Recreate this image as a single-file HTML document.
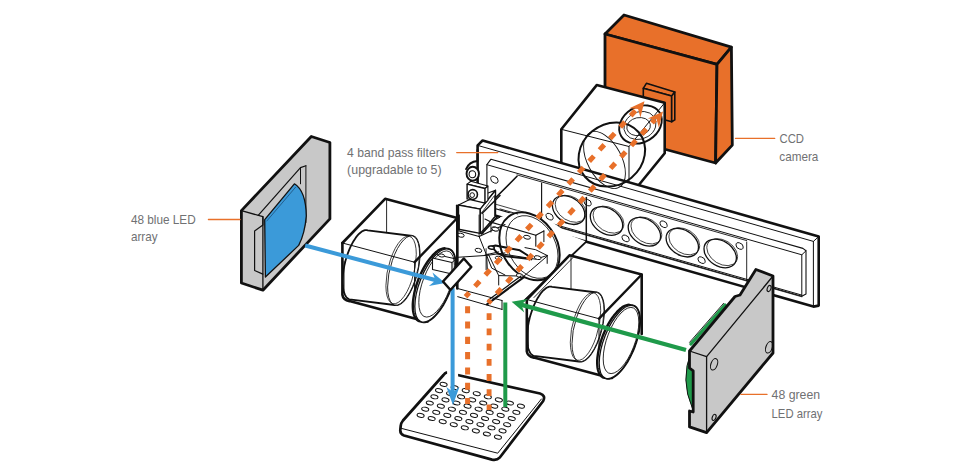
<!DOCTYPE html>
<html><head><meta charset="utf-8"><style>html,body{margin:0;padding:0;background:#fff;width:953px;height:475px;overflow:hidden}svg{display:block}</style></head>
<body><svg width="953" height="475" viewBox="0 0 953 475"><polygon points="624.0,15.0 731.4,47.2 717.0,64.4 605.0,34.0" fill="#e8702a" stroke="#111" stroke-width="2.8" stroke-linejoin="round" />
<polygon points="605.0,34.0 717.0,64.4 715.6,163.0 605.0,133.0" fill="#e8702a" stroke="#111" stroke-width="2.8" stroke-linejoin="round" />
<polygon points="717.0,64.4 731.4,47.2 732.3,145.1 715.6,163.0" fill="#e8702a" stroke="#111" stroke-width="2.8" stroke-linejoin="round" />
<polygon points="646.4,83.3 674.8,92.1 671.7,95.9 643.3,88.3" fill="#e8702a" stroke="#111" stroke-width="1.6" stroke-linejoin="round" />
<polygon points="643.3,88.3 671.7,95.9 671.7,121.8 643.3,114.0" fill="#e8702a" stroke="#111" stroke-width="1.6" stroke-linejoin="round" />
<polygon points="671.7,95.9 674.8,92.1 674.8,119.9 671.7,121.8" fill="#e8702a" stroke="#111" stroke-width="1.6" stroke-linejoin="round" />
<polygon points="596.7,85.1 664.7,102.8 664.7,153.3 629.0,197.0 561.3,180.0 561.3,129.3" fill="#fff" stroke="#111" stroke-width="2.6" stroke-linejoin="round" />
<polyline points="561.3,129.3 629.0,146.5 664.7,102.8" fill="none" stroke="#111" stroke-width="1" stroke-linejoin="round" stroke-linecap="round" />
<polyline points="629.0,146.5 629.0,197.0" fill="none" stroke="#111" stroke-width="1" stroke-linejoin="round" stroke-linecap="round" />
<polygon points="482.6,140.5 818.7,236.6 818.7,305.6 813.4,306.6 477.6,210.6 477.6,145.4" fill="#fff" stroke="#111" stroke-width="2.6" stroke-linejoin="round" />
<polyline points="477.6,145.4 813.4,241.4 818.7,236.6" fill="none" stroke="#111" stroke-width="1" stroke-linejoin="round" stroke-linecap="round" />
<polyline points="813.4,241.4 813.4,306.6" fill="none" stroke="#111" stroke-width="1" stroke-linejoin="round" stroke-linecap="round" />
<polygon points="491.0,159.2 802.9,248.4 806.0,250.8 806.0,294.0 801.8,296.3 486.9,206.2 486.9,164.7" fill="#fff" stroke="#111" stroke-width="1.1" stroke-linejoin="round" />
<polyline points="486.9,164.7 801.8,254.8 806.0,250.8" fill="none" stroke="#111" stroke-width="1" stroke-linejoin="round" stroke-linecap="round" />
<polyline points="801.8,254.8 801.8,296.3" fill="none" stroke="#111" stroke-width="1" stroke-linejoin="round" stroke-linecap="round" />
<polyline points="517.0,174.9 746.7,240.6" fill="none" stroke="#111" stroke-width="0.9" stroke-linejoin="round" stroke-linecap="round" />
<polyline points="541.6,220.7 801.8,295.1" fill="none" stroke="#111" stroke-width="1.0" stroke-linejoin="round" stroke-linecap="round" />
<polyline points="541.6,222.4 801.8,296.8" fill="none" stroke="#111" stroke-width="0.8" stroke-linejoin="round" stroke-linecap="round" />
<polyline points="517.0,176.3 480.0,213.3" fill="none" stroke="#111" stroke-width="1.6" stroke-linejoin="round" stroke-linecap="round" />
<polyline points="541.6,183.4 541.6,222.4" fill="none" stroke="#111" stroke-width="0.9" stroke-linejoin="round" stroke-linecap="round" />
<polyline points="746.7,242.0 746.7,281.0" fill="none" stroke="#111" stroke-width="0.9" stroke-linejoin="round" stroke-linecap="round" />
<polyline points="487.6,201.9 541.6,217.4" fill="none" stroke="#111" stroke-width="0.8" stroke-linejoin="round" stroke-linecap="round" />
<ellipse cx="0" cy="0" rx="16.2" ry="13.6" transform="matrix(1 0.28 0 1 568.6 210.096)" fill="#fff" stroke="#111" stroke-width="1.3" vector-effect="non-scaling-stroke" />
<ellipse cx="0" cy="0" rx="15.4" ry="12.8" transform="matrix(1 0.28 0 1 570.6 208.796)" fill="none" stroke="#111" stroke-width="0.8" vector-effect="non-scaling-stroke" />
<ellipse cx="0" cy="0" rx="16.2" ry="13.6" transform="matrix(1 0.28 0 1 606.5 220.93540000000002)" fill="#fff" stroke="#111" stroke-width="1.3" vector-effect="non-scaling-stroke" />
<ellipse cx="0" cy="0" rx="15.4" ry="12.8" transform="matrix(1 0.28 0 1 608.5 219.6354)" fill="none" stroke="#111" stroke-width="0.8" vector-effect="non-scaling-stroke" />
<ellipse cx="0" cy="0" rx="16.2" ry="13.6" transform="matrix(1 0.28 0 1 644.4000000000001 231.7748)" fill="#fff" stroke="#111" stroke-width="1.3" vector-effect="non-scaling-stroke" />
<ellipse cx="0" cy="0" rx="15.4" ry="12.8" transform="matrix(1 0.28 0 1 646.4000000000001 230.4748)" fill="none" stroke="#111" stroke-width="0.8" vector-effect="non-scaling-stroke" />
<ellipse cx="0" cy="0" rx="16.2" ry="13.6" transform="matrix(1 0.28 0 1 682.3 242.61419999999998)" fill="#fff" stroke="#111" stroke-width="1.3" vector-effect="non-scaling-stroke" />
<ellipse cx="0" cy="0" rx="15.4" ry="12.8" transform="matrix(1 0.28 0 1 684.3 241.31419999999997)" fill="none" stroke="#111" stroke-width="0.8" vector-effect="non-scaling-stroke" />
<ellipse cx="0" cy="0" rx="16.2" ry="13.6" transform="matrix(1 0.28 0 1 720.2 253.4536)" fill="#fff" stroke="#111" stroke-width="1.3" vector-effect="non-scaling-stroke" />
<ellipse cx="0" cy="0" rx="15.4" ry="12.8" transform="matrix(1 0.28 0 1 722.2 252.15359999999998)" fill="none" stroke="#111" stroke-width="0.8" vector-effect="non-scaling-stroke" />
<ellipse cx="0" cy="0" rx="3.6" ry="3.1" transform="matrix(1 0.28 0 1 549.6 216.662)" fill="#fff" stroke="#111" stroke-width="1" vector-effect="non-scaling-stroke" />
<ellipse cx="0" cy="0" rx="3.6" ry="3.1" transform="matrix(1 0.28 0 1 587.6 202.53)" fill="#fff" stroke="#111" stroke-width="1" vector-effect="non-scaling-stroke" />
<ellipse cx="0" cy="0" rx="3.6" ry="3.1" transform="matrix(1 0.28 0 1 625.6 238.398)" fill="#fff" stroke="#111" stroke-width="1" vector-effect="non-scaling-stroke" />
<ellipse cx="0" cy="0" rx="3.6" ry="3.1" transform="matrix(1 0.28 0 1 663.6 224.266)" fill="#fff" stroke="#111" stroke-width="1" vector-effect="non-scaling-stroke" />
<ellipse cx="0" cy="0" rx="3.6" ry="3.1" transform="matrix(1 0.28 0 1 701.6 260.134)" fill="#fff" stroke="#111" stroke-width="1" vector-effect="non-scaling-stroke" />
<ellipse cx="0" cy="0" rx="3.6" ry="3.1" transform="matrix(1 0.28 0 1 739.6 246.002)" fill="#fff" stroke="#111" stroke-width="1" vector-effect="non-scaling-stroke" />
<ellipse cx="0" cy="0" rx="3.7" ry="3.3" transform="matrix(1 0.28 0 1 494.40000000000003 179.6748)" fill="#fff" stroke="#111" stroke-width="1" vector-effect="non-scaling-stroke" />
<ellipse cx="604.5" cy="160" rx="17" ry="31" transform="rotate(-28 604.5 160)" fill="none" stroke="#111" stroke-width="0.9" />
<ellipse cx="0" cy="0" rx="32.9" ry="32.1" transform="matrix(1 0.02 -0.16 1 611.8 154.5)" fill="none" stroke="#111" stroke-width="2.0" vector-effect="non-scaling-stroke"/>
<ellipse cx="0" cy="0" rx="15.5" ry="14" transform="matrix(1 0.1 -0.3 1 640 125.5)" fill="none" stroke="#111" stroke-width="0.9" vector-effect="non-scaling-stroke"/>
<ellipse cx="0" cy="0" rx="11.5" ry="9" transform="matrix(1 0.1 -0.3 1 638.6 126.6)" fill="none" stroke="#111" stroke-width="0.9" vector-effect="non-scaling-stroke"/>
<ellipse cx="0" cy="0" rx="20" ry="19" transform="matrix(1 0.12 -0.38 1 640.5 124.5)" fill="none" stroke="#111" stroke-width="1.9" vector-effect="non-scaling-stroke"/>
<polygon points="456.8,232.4 480.4,232.4 495.6,218.9 517.5,210.5 552.0,222.0 572.0,236.0 586.3,241.6 527.0,298.0 504.0,311.6 456.8,301.5" fill="#fff" stroke="none" stroke-width="0" stroke-linejoin="round" />
<polyline points="500.0,208.9 517.7,214.0" fill="none" stroke="#111" stroke-width="0.9" stroke-linejoin="round" stroke-linecap="round" />
<polyline points="541.6,183.0 541.6,214.0" fill="none" stroke="#111" stroke-width="0.9" stroke-linejoin="round" stroke-linecap="round" />
<path d="M466.1,169.0 Q469.0,161.8 477.5,161.0 L477.5,150.0" fill="none" stroke="#111" stroke-width="2.0" stroke-linejoin="round" stroke-linecap="round" />
<ellipse cx="0" cy="0" rx="6.2" ry="6.9" transform="matrix(1 0 0 1 472.74881516587675 173.69668246445497)" fill="#fff" stroke="#111" stroke-width="1.9" vector-effect="non-scaling-stroke" />
<ellipse cx="0" cy="0" rx="3.3" ry="3.5" transform="matrix(1 0 0 1 472.3696682464455 174.2654028436019)" fill="none" stroke="#111" stroke-width="1.1" vector-effect="non-scaling-stroke" />
<polygon points="458.5,205.0 467.1,200.8 495.5,190.2 480.3,209.1" fill="#fff" stroke="#111" stroke-width="1.1" stroke-linejoin="round" />
<polygon points="458.5,205.0 480.3,209.1 480.3,233.4 458.5,229.2" fill="#fff" stroke="#111" stroke-width="1.4" stroke-linejoin="round" />
<polygon points="480.3,209.1 495.5,190.2 495.5,216.4 480.3,233.4" fill="#fff" stroke="#111" stroke-width="1.4" stroke-linejoin="round" />
<polyline points="481.8,212.6 494.5,195.5 494.5,216.4 481.8,233.4" fill="none" stroke="#111" stroke-width="0.8" stroke-linejoin="round" stroke-linecap="round" />
<polyline points="481.8,212.6 483.2,213.7 483.2,233.4" fill="none" stroke="#111" stroke-width="0.8" stroke-linejoin="round" stroke-linecap="round" />
<polygon points="467.1,184.1 470.9,181.3 487.9,186.0 485.1,188.5" fill="#fff" stroke="#111" stroke-width="1.1" stroke-linejoin="round" />
<polygon points="467.1,184.1 485.1,188.5 485.1,203.1 467.1,198.9" fill="#fff" stroke="#111" stroke-width="1.4" stroke-linejoin="round" />
<polygon points="485.1,188.5 487.9,186.0 487.9,200.4 485.1,203.1" fill="#fff" stroke="#111" stroke-width="1.1" stroke-linejoin="round" />
<ellipse cx="0" cy="0" rx="4.7" ry="4.9" transform="matrix(1 0 0 1 472.74881516587675 194.54976303317534)" fill="#fff" stroke="#111" stroke-width="1.6" vector-effect="non-scaling-stroke" />
<ellipse cx="0" cy="0" rx="2.3" ry="2.4" transform="matrix(1 0 0 1 472.18009478672985 195.11848341232226)" fill="none" stroke="#111" stroke-width="1.0" vector-effect="non-scaling-stroke" />
<polyline points="457.0,205.5 457.0,275.0" fill="none" stroke="#111" stroke-width="2.2" stroke-linejoin="round" stroke-linecap="round" />
<polyline points="458.3,230.8 479.1,236.5" fill="none" stroke="#111" stroke-width="1.1" stroke-linejoin="round" stroke-linecap="round" />
<polyline points="479.1,236.5 479.1,215.0" fill="none" stroke="#111" stroke-width="0.9" stroke-linejoin="round" stroke-linecap="round" />
<polyline points="479.1,236.5 505.0,224.5" fill="none" stroke="#111" stroke-width="1.1" stroke-linejoin="round" stroke-linecap="round" />
<polyline points="481.6,233.9 496.8,217.5" fill="none" stroke="#111" stroke-width="1.8" stroke-linejoin="round" stroke-linecap="round" />
<polyline points="479.1,236.5 491.7,268.1 505.0,275.0" fill="none" stroke="#111" stroke-width="1.0" stroke-linejoin="round" stroke-linecap="round" />
<polyline points="457.6,257.3 486.7,255.4 505.0,252.9" fill="none" stroke="#111" stroke-width="1.0" stroke-linejoin="round" stroke-linecap="round" />
<polyline points="486.7,255.4 487.3,269.3" fill="none" stroke="#111" stroke-width="1.0" stroke-linejoin="round" stroke-linecap="round" />
<polyline points="459.5,215.0 459.5,230.2" fill="none" stroke="#111" stroke-width="0.9" stroke-linejoin="round" stroke-linecap="round" />
<ellipse cx="0" cy="0" rx="3.4" ry="2.0" transform="matrix(1 0.15 0 1 460.7888088922572 235.2096753820892)" fill="#fff" stroke="#111" stroke-width="1.0" vector-effect="non-scaling-stroke" />
<ellipse cx="0" cy="0" rx="3.4" ry="2.0" transform="matrix(1 0.15 0 1 478.4722748515852 250.36693191865606)" fill="#fff" stroke="#111" stroke-width="1.0" vector-effect="non-scaling-stroke" />
<ellipse cx="0" cy="0" rx="3.4" ry="2.0" transform="matrix(1 0.15 0 1 494.89263609953264 228.8941518251863)" fill="#fff" stroke="#111" stroke-width="1.0" vector-effect="non-scaling-stroke" />
<polyline points="455.4,287.9 502.0,300.5" fill="none" stroke="#111" stroke-width="1.0" stroke-linejoin="round" stroke-linecap="round" />
<polyline points="455.4,296.0 502.0,309.4" fill="none" stroke="#111" stroke-width="1.0" stroke-linejoin="round" stroke-linecap="round" />
<polyline points="502.0,300.5 502.0,309.4" fill="none" stroke="#111" stroke-width="1.0" stroke-linejoin="round" stroke-linecap="round" />
<polyline points="586.3,241.6 525.0,300.0" fill="none" stroke="#111" stroke-width="1.9" stroke-linejoin="round" stroke-linecap="round" />
<polyline points="586.3,197.4 586.3,241.6" fill="none" stroke="#111" stroke-width="1.5" stroke-linejoin="round" stroke-linecap="round" />
<ellipse cx="0" cy="0" rx="30.2" ry="32.8" transform="matrix(1 0.286 0 1 529.5 246.3)" fill="none" stroke="#111" stroke-width="2.0" vector-effect="non-scaling-stroke" />
<ellipse cx="0" cy="0" rx="26" ry="30" transform="matrix(1 0.35 0 1 532 247)" fill="none" stroke="#111" stroke-width="0.9" vector-effect="non-scaling-stroke" />
<polyline points="485.0,219.1 490.9,222.1 535.8,235.3 543.9,230.9" fill="none" stroke="#111" stroke-width="1.1" stroke-linejoin="round" stroke-linecap="round" />
<polyline points="490.9,222.1 499.7,217.4" fill="none" stroke="#111" stroke-width="1.0" stroke-linejoin="round" stroke-linecap="round" />
<polyline points="535.8,235.3 535.8,246.1" fill="none" stroke="#111" stroke-width="1.1" stroke-linejoin="round" stroke-linecap="round" />
<polyline points="543.9,230.9 543.9,241.7" fill="none" stroke="#111" stroke-width="1.0" stroke-linejoin="round" stroke-linecap="round" />
<polyline points="490.9,222.1 490.9,232.1" fill="none" stroke="#111" stroke-width="0.9" stroke-linejoin="round" stroke-linecap="round" />
<ellipse cx="0" cy="0" rx="3.4" ry="1.9" transform="matrix(1 0.15 0 1 495.31535514294137 229.15708812260536)" fill="#fff" stroke="#111" stroke-width="1.0" vector-effect="non-scaling-stroke" />
<ellipse cx="0" cy="0" rx="3.4" ry="1.9" transform="matrix(1 0.15 0 1 526.9982316534041 237.26201002063073)" fill="#fff" stroke="#111" stroke-width="1.0" vector-effect="non-scaling-stroke" />
<polyline points="485.0,255.0 498.7,251.9" fill="none" stroke="#111" stroke-width="1.0" stroke-linejoin="round" stroke-linecap="round" />
<polyline points="525.0,247.6 535.6,249.7 547.2,255.5" fill="none" stroke="#111" stroke-width="1.0" stroke-linejoin="round" stroke-linecap="round" />
<polyline points="547.2,255.5 547.2,263.4" fill="none" stroke="#111" stroke-width="1.0" stroke-linejoin="round" stroke-linecap="round" />
<polyline points="547.2,256.1 524.0,276.1" fill="none" stroke="#111" stroke-width="1.0" stroke-linejoin="round" stroke-linecap="round" />
<polyline points="486.1,248.7 486.1,269.8" fill="none" stroke="#111" stroke-width="0.9" stroke-linejoin="round" stroke-linecap="round" />
<polyline points="488.2,254.0 498.7,275.6 498.7,285.0" fill="none" stroke="#111" stroke-width="1.0" stroke-linejoin="round" stroke-linecap="round" />
<polyline points="498.7,275.6 522.9,276.1" fill="none" stroke="#111" stroke-width="1.0" stroke-linejoin="round" stroke-linecap="round" />
<polyline points="498.7,253.4 535.6,259.2 547.2,255.5" fill="none" stroke="#111" stroke-width="1.0" stroke-linejoin="round" stroke-linecap="round" />
<ellipse cx="0" cy="0" rx="3.4" ry="1.9" transform="matrix(1 0.15 0 1 537.6703887074686 257.6482671442115)" fill="#fff" stroke="#111" stroke-width="1.0" vector-effect="non-scaling-stroke" />
<ellipse cx="0" cy="0" rx="3.4" ry="1.9" transform="matrix(1 0.15 0 1 498.69430106394185 258.1749710312862)" fill="#fff" stroke="#111" stroke-width="1.0" vector-effect="non-scaling-stroke" />
<ellipse cx="0" cy="0" rx="3.4" ry="1.9" transform="matrix(1 0.15 0 1 519.7624565469293 275.55619930475086)" fill="#fff" stroke="#111" stroke-width="1.0" vector-effect="non-scaling-stroke" />
<polyline points="490.8,246.8 495.5,245.5 519.8,250.3 527.1,255.0 531.3,259.4" fill="none" stroke="#111" stroke-width="2.0" stroke-linejoin="round" stroke-linecap="round" />
<polyline points="493.4,248.7 497.6,253.4 504.0,256.1 530.3,259.0" fill="none" stroke="#111" stroke-width="2.0" stroke-linejoin="round" stroke-linecap="round" />
<ellipse cx="0" cy="0" rx="3" ry="1.6" transform="matrix(1 0.1 0 1 491.32044664489626 247.64089328979247)" fill="#fff" stroke="#111" stroke-width="1.5" vector-effect="non-scaling-stroke" />
<polyline points="487.0,304.3 523.6,277.3" fill="none" stroke="#111" stroke-width="2.1" stroke-linejoin="round" stroke-linecap="round" />
<polyline points="487.7,300.5 521.1,276.0" fill="none" stroke="#111" stroke-width="1.2" stroke-linejoin="round" stroke-linecap="round" />
<polyline points="455.4,287.9 455.4,298.0" fill="none" stroke="#111" stroke-width="1.0" stroke-linejoin="round" stroke-linecap="round" />
<polyline points="432.6,260.1 432.6,277.8 455.4,287.9" fill="none" stroke="#111" stroke-width="1.0" stroke-linejoin="round" stroke-linecap="round" />
<polyline points="500.0,195.5 482.0,213.5" fill="none" stroke="#111" stroke-width="1.5" stroke-linejoin="round" stroke-linecap="round" />
<polygon points="569.5,255.3 641.7,274.5 641.7,361.4 630.0,375.0 599.0,375.0 533.9,357.1 526.8,351.4 526.8,299.5" fill="#fff" stroke="none" stroke-width="0" stroke-linejoin="round" />
<clipPath id="hc0"><polygon points="569.5,255.3 641.7,274.5 660.0,361.4 660.0,400.0 599.0,376.0 533.9,358.6 526.8,352.0 526.8,299.5"/></clipPath><g clip-path="url(#hc0)">
<polygon points="552.1,286.8 551.3,286.6 550.4,286.6 549.5,286.7 548.6,286.9 547.6,287.3 546.6,287.8 545.6,288.5 544.7,289.3 543.6,290.2 542.6,291.2 541.6,292.3 540.6,293.6 539.7,294.9 538.7,296.4 537.7,298.0 536.8,299.6 535.9,301.4 535.0,303.2 534.1,305.1 533.3,307.1 532.5,309.1 531.8,311.1 531.1,313.2 530.4,315.4 529.8,317.5 529.3,319.7 528.8,321.9 528.4,324.1 528.0,326.2 527.7,328.4 527.4,330.5 527.2,332.6 527.1,334.6 527.0,336.6 527.0,338.5 527.1,340.4 527.2,342.2 527.4,343.9 527.6,345.5 527.9,347.0 528.3,348.4 528.7,349.7 529.2,350.9 529.7,352.0 530.3,353.0 530.9,353.8 531.6,354.5 532.3,355.1 533.1,355.5 533.9,355.8 578.9,361.5 579.9,361.7 581.1,361.7 582.2,361.4 583.4,361.0 584.6,360.3 585.9,359.4 587.1,358.4 588.4,357.1 589.6,355.7 590.9,354.1 592.1,352.3 593.3,350.3 594.5,348.2 595.6,346.0 596.7,343.7 597.7,341.2 598.7,338.7 599.6,336.1 600.4,333.5 601.2,330.8 601.8,328.0 602.4,325.3 602.9,322.6 603.3,319.9 603.6,317.3 603.9,314.7 604.0,312.2 604.0,309.8 603.9,307.5 603.7,305.3 603.5,303.2 603.1,301.3 602.6,299.5 602.1,298.0 601.5,296.6 600.7,295.3 599.9,294.3 599.1,293.5 598.1,292.9 597.1,292.5" fill="#fff" stroke="#111" stroke-width="1.8" stroke-linejoin="round" />
</g>
<ellipse cx="0" cy="0" rx="16" ry="30.5" transform="matrix(1 -1.035 0 1 588 327)" fill="#fff" stroke="#111" stroke-width="0.9" vector-effect="non-scaling-stroke" />
<ellipse cx="0" cy="0" rx="15.2" ry="30.0" transform="matrix(1 -1.035 0 1 585.5 326.5)" fill="none" stroke="#111" stroke-width="0.8" vector-effect="non-scaling-stroke" />
<polyline points="526.8,299.5 569.5,255.3 641.7,274.5 641.7,334.0" fill="none" stroke="#111" stroke-width="2.6" stroke-linejoin="round" stroke-linecap="round" />
<polyline points="599.0,318.7 641.7,274.5" fill="none" stroke="#111" stroke-width="2.4" stroke-linejoin="round" stroke-linecap="round" />
<polyline points="526.8,299.5 599.0,318.7" fill="none" stroke="#111" stroke-width="1" stroke-linejoin="round" stroke-linecap="round" />
<polyline points="571.0,256.0 571.0,289.2" fill="none" stroke="#111" stroke-width="0.9" stroke-linejoin="round" stroke-linecap="round" />
<polyline points="528.5,318.0 528.5,349.0" fill="none" stroke="#111" stroke-width="0.8" stroke-linejoin="round" stroke-linecap="round" />
<path d="M526.8,299.5 L526.8,351.4 Q527.5,356.5 533.9,357.6 L599,375 L612,378" fill="none" stroke="#111" stroke-width="2.6" stroke-linejoin="round" stroke-linecap="round" />
<polyline points="599.0,318.7 599.0,375.0" fill="none" stroke="#111" stroke-width="1" stroke-linejoin="round" stroke-linecap="round" />
<polygon points="629.1,304.8 627.7,304.9 626.3,305.3 624.8,305.8 623.3,306.6 621.8,307.6 620.2,308.8 618.6,310.3 617.0,311.9 615.5,313.7 613.9,315.6 612.3,317.8 610.8,320.0 609.3,322.4 607.9,324.9 606.5,327.6 605.2,330.3 604.0,333.0 602.8,335.8 601.8,338.7 600.8,341.6 600.0,344.5 599.2,347.3 598.6,350.1 598.1,352.9 597.7,355.6 597.4,358.2 597.2,360.7 597.2,363.1 597.3,365.3 597.5,367.4 597.9,369.4 598.3,371.1 598.9,372.7 599.6,374.1 600.4,375.3 601.3,376.3 602.4,377.1 603.5,377.6 604.7,377.9 605.9,378.0 607.9,378.6 609.3,378.5 610.7,378.1 612.2,377.6 613.7,376.8 615.2,375.8 616.8,374.6 618.4,373.1 620.0,371.5 621.5,369.7 623.1,367.8 624.7,365.6 626.2,363.4 627.7,361.0 629.1,358.5 630.5,355.8 631.8,353.1 633.0,350.4 634.2,347.6 635.2,344.7 636.2,341.8 637.0,338.9 637.8,336.1 638.4,333.3 638.9,330.5 639.3,327.8 639.6,325.2 639.8,322.7 639.8,320.3 639.7,318.1 639.5,316.0 639.1,314.0 638.7,312.3 638.1,310.7 637.4,309.3 636.6,308.1 635.7,307.1 634.6,306.3 633.5,305.8 632.3,305.5 631.1,305.4" fill="#fff" stroke="#111" stroke-width="2.4" stroke-linejoin="round" />
<ellipse cx="0" cy="0" rx="20.3" ry="30" transform="matrix(1 -1.035 0 1 619.5 342)" fill="#fff" stroke="#111" stroke-width="1.3" vector-effect="non-scaling-stroke" />
<ellipse cx="0" cy="0" rx="17.8" ry="27.5" transform="matrix(1 -1.035 0 1 621.0 340.5)" fill="none" stroke="#111" stroke-width="0.9" vector-effect="non-scaling-stroke" />
<polygon points="385.1,198.8 457.3,218.0 457.3,304.9 445.6,318.5 414.6,318.5 349.5,300.6 342.4,294.9 342.4,243.0" fill="#fff" stroke="none" stroke-width="0" stroke-linejoin="round" />
<clipPath id="hc184"><polygon points="385.1,198.8 457.3,218.0 475.6,304.9 475.6,343.5 414.6,319.5 349.5,302.1 342.4,295.5 342.4,243.0"/></clipPath><g clip-path="url(#hc184)">
<polygon points="367.7,230.3 366.9,230.1 366.0,230.1 365.1,230.2 364.2,230.4 363.2,230.8 362.2,231.3 361.2,232.0 360.3,232.8 359.2,233.7 358.2,234.7 357.2,235.8 356.2,237.1 355.3,238.4 354.3,239.9 353.3,241.5 352.4,243.1 351.5,244.9 350.6,246.7 349.7,248.6 348.9,250.6 348.1,252.6 347.4,254.6 346.7,256.7 346.0,258.9 345.4,261.0 344.9,263.2 344.4,265.4 344.0,267.6 343.6,269.7 343.3,271.9 343.0,274.0 342.8,276.1 342.7,278.1 342.6,280.1 342.6,282.0 342.7,283.9 342.8,285.7 343.0,287.4 343.2,289.0 343.5,290.5 343.9,291.9 344.3,293.2 344.8,294.4 345.3,295.5 345.9,296.5 346.5,297.3 347.2,298.0 347.9,298.6 348.7,299.0 349.5,299.3 394.5,305.0 395.5,305.2 396.7,305.2 397.8,304.9 399.0,304.5 400.2,303.8 401.5,302.9 402.7,301.9 404.0,300.6 405.2,299.2 406.5,297.6 407.7,295.8 408.9,293.8 410.1,291.7 411.2,289.5 412.3,287.2 413.3,284.7 414.3,282.2 415.2,279.6 416.0,277.0 416.8,274.3 417.4,271.5 418.0,268.8 418.5,266.1 418.9,263.4 419.2,260.8 419.5,258.2 419.6,255.7 419.6,253.3 419.5,251.0 419.3,248.8 419.1,246.7 418.7,244.8 418.2,243.0 417.7,241.5 417.1,240.1 416.3,238.8 415.5,237.8 414.7,237.0 413.7,236.4 412.7,236.0" fill="#fff" stroke="#111" stroke-width="1.8" stroke-linejoin="round" />
</g>
<ellipse cx="0" cy="0" rx="16" ry="30.5" transform="matrix(1 -1.035 0 1 403.6 270.5)" fill="#fff" stroke="#111" stroke-width="0.9" vector-effect="non-scaling-stroke" />
<ellipse cx="0" cy="0" rx="15.2" ry="30.0" transform="matrix(1 -1.035 0 1 401.1 270.0)" fill="none" stroke="#111" stroke-width="0.8" vector-effect="non-scaling-stroke" />
<polyline points="342.4,243.0 385.1,198.8 457.3,218.0 457.3,288.5" fill="none" stroke="#111" stroke-width="2.6" stroke-linejoin="round" stroke-linecap="round" />
<polyline points="414.6,262.2 457.3,218.0" fill="none" stroke="#111" stroke-width="2.4" stroke-linejoin="round" stroke-linecap="round" />
<polyline points="342.4,243.0 414.6,262.2" fill="none" stroke="#111" stroke-width="1" stroke-linejoin="round" stroke-linecap="round" />
<polyline points="386.6,199.5 386.6,232.7" fill="none" stroke="#111" stroke-width="0.9" stroke-linejoin="round" stroke-linecap="round" />
<polyline points="344.1,261.5 344.1,292.5" fill="none" stroke="#111" stroke-width="0.8" stroke-linejoin="round" stroke-linecap="round" />
<path d="M342.4,243.0 L342.4,294.9 Q343.1,300.0 349.5,301.1 L414.6,318.5 L427.6,321.5" fill="none" stroke="#111" stroke-width="2.6" stroke-linejoin="round" stroke-linecap="round" />
<polyline points="414.6,262.2 414.6,318.5" fill="none" stroke="#111" stroke-width="1" stroke-linejoin="round" stroke-linecap="round" />
<polygon points="444.7,248.3 443.3,248.4 441.9,248.8 440.4,249.3 438.9,250.1 437.4,251.1 435.8,252.3 434.2,253.8 432.6,255.4 431.1,257.2 429.5,259.1 427.9,261.3 426.4,263.5 424.9,265.9 423.5,268.4 422.1,271.1 420.8,273.8 419.6,276.5 418.4,279.3 417.4,282.2 416.4,285.1 415.6,288.0 414.8,290.8 414.2,293.6 413.7,296.4 413.3,299.1 413.0,301.7 412.8,304.2 412.8,306.6 412.9,308.8 413.1,310.9 413.5,312.9 413.9,314.6 414.5,316.2 415.2,317.6 416.0,318.8 416.9,319.8 418.0,320.6 419.1,321.1 420.3,321.4 421.5,321.5 423.5,322.1 424.9,322.0 426.3,321.6 427.8,321.1 429.3,320.3 430.8,319.3 432.4,318.1 434.0,316.6 435.6,315.0 437.1,313.2 438.7,311.3 440.3,309.1 441.8,306.9 443.3,304.5 444.7,302.0 446.1,299.3 447.4,296.6 448.6,293.9 449.8,291.1 450.8,288.2 451.8,285.3 452.6,282.4 453.4,279.6 454.0,276.8 454.5,274.0 454.9,271.3 455.2,268.7 455.4,266.2 455.4,263.8 455.3,261.6 455.1,259.5 454.7,257.5 454.3,255.8 453.7,254.2 453.0,252.8 452.2,251.6 451.3,250.6 450.2,249.8 449.1,249.3 447.9,249.0 446.7,248.9" fill="#fff" stroke="#111" stroke-width="2.4" stroke-linejoin="round" />
<ellipse cx="0" cy="0" rx="20.3" ry="30" transform="matrix(1 -1.035 0 1 435.1 285.5)" fill="#fff" stroke="#111" stroke-width="1.3" vector-effect="non-scaling-stroke" />
<ellipse cx="0" cy="0" rx="17.8" ry="27.5" transform="matrix(1 -1.035 0 1 436.6 284.0)" fill="none" stroke="#111" stroke-width="0.9" vector-effect="non-scaling-stroke" />
<polygon points="241.4,210.6 311.3,136.5 329.9,142.5 329.9,218.9 262.9,290.2 241.4,283.0" fill="#c8c8c8" stroke="#111" stroke-width="2.8" stroke-linejoin="round" />
<polyline points="241.4,210.6 262.9,216.7 262.9,290.2" fill="none" stroke="#111" stroke-width="1.3" stroke-linejoin="round" stroke-linecap="round" />
<polyline points="262.9,216.7 262.9,225.0 254.6,231.1 254.6,270.5 262.9,274.1" fill="none" stroke="#111" stroke-width="1.2" stroke-linejoin="round" stroke-linecap="round" />
<polyline points="258.2,215.3 300.5,167.6 305.9,165.8" fill="none" stroke="#111" stroke-width="1.2" stroke-linejoin="round" stroke-linecap="round" />
<polyline points="300.5,167.6 300.5,183.8" fill="none" stroke="#111" stroke-width="1.0" stroke-linejoin="round" stroke-linecap="round" />
<polyline points="305.9,165.8 305.9,222.5" fill="none" stroke="#111" stroke-width="1.0" stroke-linejoin="round" stroke-linecap="round" />
<path d="M264.7,219.6 L294.4,183.8 Q305.9,190.9 306.3,216.0 Q304.8,233.9 298.7,245.4 L265.4,277.0 Z" fill="#3b9ad9" stroke="#111" stroke-width="1.3" stroke-linejoin="round" stroke-linecap="round" />
<polyline points="266.8,221.0 295.5,187.3" fill="none" stroke="#1d4f7a" stroke-width="0.8" stroke-linejoin="round" stroke-linecap="round" />
<path d="M691,352 Q680,380 692.3,408 L697,408 L697,352 Z" fill="#1f9a4a" stroke="#111" stroke-width="1.0" stroke-linejoin="round" stroke-linecap="round" />
<polyline points="691.0,344.0 725.0,305.0" fill="none" stroke="#1f9a4a" stroke-width="3.4" stroke-linejoin="round" stroke-linecap="round" />
<polyline points="689.6,342.3 723.6,303.3" fill="none" stroke="#111" stroke-width="0.9" stroke-linejoin="round" stroke-linecap="round" />
<polygon points="689.5,351.0 735.0,296.5 740.0,295.0 755.9,269.5 773.0,276.0 773.0,353.0 706.6,432.6 689.5,426.9 689.5,411.0 693.2,412.0 693.2,370.8 689.5,368.0" fill="#c8c8c8" stroke="#111" stroke-width="2.8" stroke-linejoin="round" />
<polyline points="689.5,351.0 706.6,356.7 773.0,276.0" fill="none" stroke="#111" stroke-width="1.3" stroke-linejoin="round" stroke-linecap="round" />
<polyline points="706.6,356.7 706.6,432.6" fill="none" stroke="#111" stroke-width="1.3" stroke-linejoin="round" stroke-linecap="round" />
<ellipse cx="714.1" cy="364.3" rx="3.2" ry="6.0" transform="rotate(20 714.1 364.3)" fill="none" stroke="#111" stroke-width="1.1" />
<ellipse cx="769.1" cy="347.3" rx="3.2" ry="6.0" transform="rotate(20 769.1 347.3)" fill="none" stroke="#111" stroke-width="1.1" />
<ellipse cx="769.1" cy="288.5" rx="1.8" ry="3.2" transform="rotate(20 769.1 288.5)" fill="none" stroke="#111" stroke-width="1.1" />
<ellipse cx="714.1" cy="417.4" rx="1.8" ry="3.2" transform="rotate(20 714.1 417.4)" fill="none" stroke="#111" stroke-width="1.1" />
<path d="M446.5,372.5 L540,393.5 Q546,395.5 543.2,401 L499.6,457.7 Q497,460.5 492,459.6 L404,435.5 Q400,434 400.3,430 L400.7,426 Q401,423 403,420.5 L443.5,375 Q445,373 446.5,372.5 Z" fill="#fff" stroke="#111" stroke-width="2.7" stroke-linejoin="round" stroke-linecap="round" />
<polyline points="401.5,428.4 497.7,453.2 541.4,399.0" fill="none" stroke="#111" stroke-width="1.0" stroke-linejoin="round" stroke-linecap="round" />
<ellipse cx="443.6" cy="384.4" rx="3.6" ry="1.9" transform="rotate(12 443.6 384.4)" fill="#fff" stroke="#111" stroke-width="1.0" />
<ellipse cx="439.0" cy="390.59999999999997" rx="3.6" ry="1.9" transform="rotate(12 439.0 390.59999999999997)" fill="#fff" stroke="#111" stroke-width="1.0" />
<ellipse cx="434.40000000000003" cy="396.79999999999995" rx="3.6" ry="1.9" transform="rotate(12 434.40000000000003 396.79999999999995)" fill="#fff" stroke="#111" stroke-width="1.0" />
<ellipse cx="429.8" cy="403.0" rx="3.6" ry="1.9" transform="rotate(12 429.8 403.0)" fill="#fff" stroke="#111" stroke-width="1.0" />
<ellipse cx="425.20000000000005" cy="409.2" rx="3.6" ry="1.9" transform="rotate(12 425.20000000000005 409.2)" fill="#fff" stroke="#111" stroke-width="1.0" />
<ellipse cx="420.6" cy="415.4" rx="3.6" ry="1.9" transform="rotate(12 420.6 415.4)" fill="#fff" stroke="#111" stroke-width="1.0" />
<ellipse cx="454.65000000000003" cy="387.5" rx="3.6" ry="1.9" transform="rotate(12 454.65000000000003 387.5)" fill="#fff" stroke="#111" stroke-width="1.0" />
<ellipse cx="450.05" cy="393.7" rx="3.6" ry="1.9" transform="rotate(12 450.05 393.7)" fill="#fff" stroke="#111" stroke-width="1.0" />
<ellipse cx="445.45000000000005" cy="399.9" rx="3.6" ry="1.9" transform="rotate(12 445.45000000000005 399.9)" fill="#fff" stroke="#111" stroke-width="1.0" />
<ellipse cx="440.85" cy="406.1" rx="3.6" ry="1.9" transform="rotate(12 440.85 406.1)" fill="#fff" stroke="#111" stroke-width="1.0" />
<ellipse cx="436.25000000000006" cy="412.3" rx="3.6" ry="1.9" transform="rotate(12 436.25000000000006 412.3)" fill="#fff" stroke="#111" stroke-width="1.0" />
<ellipse cx="431.65000000000003" cy="418.5" rx="3.6" ry="1.9" transform="rotate(12 431.65000000000003 418.5)" fill="#fff" stroke="#111" stroke-width="1.0" />
<ellipse cx="465.70000000000005" cy="390.59999999999997" rx="3.6" ry="1.9" transform="rotate(12 465.70000000000005 390.59999999999997)" fill="#fff" stroke="#111" stroke-width="1.0" />
<ellipse cx="461.1" cy="396.79999999999995" rx="3.6" ry="1.9" transform="rotate(12 461.1 396.79999999999995)" fill="#fff" stroke="#111" stroke-width="1.0" />
<ellipse cx="456.50000000000006" cy="402.99999999999994" rx="3.6" ry="1.9" transform="rotate(12 456.50000000000006 402.99999999999994)" fill="#fff" stroke="#111" stroke-width="1.0" />
<ellipse cx="451.90000000000003" cy="409.2" rx="3.6" ry="1.9" transform="rotate(12 451.90000000000003 409.2)" fill="#fff" stroke="#111" stroke-width="1.0" />
<ellipse cx="447.30000000000007" cy="415.4" rx="3.6" ry="1.9" transform="rotate(12 447.30000000000007 415.4)" fill="#fff" stroke="#111" stroke-width="1.0" />
<ellipse cx="442.70000000000005" cy="421.59999999999997" rx="3.6" ry="1.9" transform="rotate(12 442.70000000000005 421.59999999999997)" fill="#fff" stroke="#111" stroke-width="1.0" />
<ellipse cx="476.75" cy="393.7" rx="3.6" ry="1.9" transform="rotate(12 476.75 393.7)" fill="#fff" stroke="#111" stroke-width="1.0" />
<ellipse cx="472.15" cy="399.9" rx="3.6" ry="1.9" transform="rotate(12 472.15 399.9)" fill="#fff" stroke="#111" stroke-width="1.0" />
<ellipse cx="467.55" cy="406.09999999999997" rx="3.6" ry="1.9" transform="rotate(12 467.55 406.09999999999997)" fill="#fff" stroke="#111" stroke-width="1.0" />
<ellipse cx="462.95" cy="412.3" rx="3.6" ry="1.9" transform="rotate(12 462.95 412.3)" fill="#fff" stroke="#111" stroke-width="1.0" />
<ellipse cx="458.35" cy="418.5" rx="3.6" ry="1.9" transform="rotate(12 458.35 418.5)" fill="#fff" stroke="#111" stroke-width="1.0" />
<ellipse cx="453.75" cy="424.7" rx="3.6" ry="1.9" transform="rotate(12 453.75 424.7)" fill="#fff" stroke="#111" stroke-width="1.0" />
<ellipse cx="487.8" cy="396.79999999999995" rx="3.6" ry="1.9" transform="rotate(12 487.8 396.79999999999995)" fill="#fff" stroke="#111" stroke-width="1.0" />
<ellipse cx="483.2" cy="402.99999999999994" rx="3.6" ry="1.9" transform="rotate(12 483.2 402.99999999999994)" fill="#fff" stroke="#111" stroke-width="1.0" />
<ellipse cx="478.6" cy="409.19999999999993" rx="3.6" ry="1.9" transform="rotate(12 478.6 409.19999999999993)" fill="#fff" stroke="#111" stroke-width="1.0" />
<ellipse cx="474.0" cy="415.4" rx="3.6" ry="1.9" transform="rotate(12 474.0 415.4)" fill="#fff" stroke="#111" stroke-width="1.0" />
<ellipse cx="469.40000000000003" cy="421.59999999999997" rx="3.6" ry="1.9" transform="rotate(12 469.40000000000003 421.59999999999997)" fill="#fff" stroke="#111" stroke-width="1.0" />
<ellipse cx="464.8" cy="427.79999999999995" rx="3.6" ry="1.9" transform="rotate(12 464.8 427.79999999999995)" fill="#fff" stroke="#111" stroke-width="1.0" />
<ellipse cx="498.85" cy="399.9" rx="3.6" ry="1.9" transform="rotate(12 498.85 399.9)" fill="#fff" stroke="#111" stroke-width="1.0" />
<ellipse cx="494.25" cy="406.09999999999997" rx="3.6" ry="1.9" transform="rotate(12 494.25 406.09999999999997)" fill="#fff" stroke="#111" stroke-width="1.0" />
<ellipse cx="489.65000000000003" cy="412.29999999999995" rx="3.6" ry="1.9" transform="rotate(12 489.65000000000003 412.29999999999995)" fill="#fff" stroke="#111" stroke-width="1.0" />
<ellipse cx="485.05" cy="418.5" rx="3.6" ry="1.9" transform="rotate(12 485.05 418.5)" fill="#fff" stroke="#111" stroke-width="1.0" />
<ellipse cx="480.45000000000005" cy="424.7" rx="3.6" ry="1.9" transform="rotate(12 480.45000000000005 424.7)" fill="#fff" stroke="#111" stroke-width="1.0" />
<ellipse cx="475.85" cy="430.9" rx="3.6" ry="1.9" transform="rotate(12 475.85 430.9)" fill="#fff" stroke="#111" stroke-width="1.0" />
<ellipse cx="509.90000000000003" cy="403.0" rx="3.6" ry="1.9" transform="rotate(12 509.90000000000003 403.0)" fill="#fff" stroke="#111" stroke-width="1.0" />
<ellipse cx="505.3" cy="409.2" rx="3.6" ry="1.9" transform="rotate(12 505.3 409.2)" fill="#fff" stroke="#111" stroke-width="1.0" />
<ellipse cx="500.70000000000005" cy="415.4" rx="3.6" ry="1.9" transform="rotate(12 500.70000000000005 415.4)" fill="#fff" stroke="#111" stroke-width="1.0" />
<ellipse cx="496.1" cy="421.6" rx="3.6" ry="1.9" transform="rotate(12 496.1 421.6)" fill="#fff" stroke="#111" stroke-width="1.0" />
<ellipse cx="491.50000000000006" cy="427.8" rx="3.6" ry="1.9" transform="rotate(12 491.50000000000006 427.8)" fill="#fff" stroke="#111" stroke-width="1.0" />
<ellipse cx="486.90000000000003" cy="434.0" rx="3.6" ry="1.9" transform="rotate(12 486.90000000000003 434.0)" fill="#fff" stroke="#111" stroke-width="1.0" />
<ellipse cx="520.95" cy="406.09999999999997" rx="3.6" ry="1.9" transform="rotate(12 520.95 406.09999999999997)" fill="#fff" stroke="#111" stroke-width="1.0" />
<ellipse cx="516.35" cy="412.29999999999995" rx="3.6" ry="1.9" transform="rotate(12 516.35 412.29999999999995)" fill="#fff" stroke="#111" stroke-width="1.0" />
<ellipse cx="511.75000000000006" cy="418.49999999999994" rx="3.6" ry="1.9" transform="rotate(12 511.75000000000006 418.49999999999994)" fill="#fff" stroke="#111" stroke-width="1.0" />
<ellipse cx="507.15000000000003" cy="424.7" rx="3.6" ry="1.9" transform="rotate(12 507.15000000000003 424.7)" fill="#fff" stroke="#111" stroke-width="1.0" />
<ellipse cx="502.55000000000007" cy="430.9" rx="3.6" ry="1.9" transform="rotate(12 502.55000000000007 430.9)" fill="#fff" stroke="#111" stroke-width="1.0" />
<ellipse cx="497.95000000000005" cy="437.09999999999997" rx="3.6" ry="1.9" transform="rotate(12 497.95000000000005 437.09999999999997)" fill="#fff" stroke="#111" stroke-width="1.0" />
<polyline points="573.0,257.5 534.0,297.5" fill="none" stroke="#111" stroke-width="0.9" stroke-linejoin="round" stroke-linecap="round" />
<polygon points="432.5,258.0 452.0,262.5 452.0,274.0 432.5,269.5" fill="#fff" stroke="#111" stroke-width="1.1" stroke-linejoin="round" />
<polyline points="432.5,258.0 436.5,254.5 456.0,259.0 452.0,262.5" fill="none" stroke="#111" stroke-width="1.0" stroke-linejoin="round" stroke-linecap="round" />
<ellipse cx="0" cy="0" rx="3" ry="1.5" transform="matrix(1 0.1 0 1 441.5 255.5)" fill="#fff" stroke="#111" stroke-width="1.0" vector-effect="non-scaling-stroke" />
<polyline points="305.2,245.5 436.0,280.2" fill="none" stroke="#3b9ad9" stroke-width="4.0" stroke-linejoin="round"  stroke-linecap="butt"/>
<polygon points="445.2,283.0 428.9,285.9 435.5,280.4 432.5,272.4" fill="#3b9ad9" stroke="none"/>
<polyline points="452.6,362.0 452.6,382.0" fill="none" stroke="#fff" stroke-width="11" stroke-linejoin="round"  stroke-linecap="butt"/>
<polyline points="452.6,288.2 452.6,392.0" fill="none" stroke="#3b9ad9" stroke-width="4.0" stroke-linejoin="round"  stroke-linecap="butt"/>
<polygon points="452.9,405.0 446.4,387.0 452.9,392.0 459.4,387.0" fill="#3b9ad9" stroke="none"/>
<polyline points="686.0,350.0 520.0,304.4" fill="none" stroke="#1f9a4a" stroke-width="4.3" stroke-linejoin="round"  stroke-linecap="butt"/>
<polygon points="511.6,301.8 527.9,299.0 521.3,304.4 524.3,312.5" fill="#1f9a4a" stroke="none"/>
<polyline points="505.3,302.5 505.3,407.0" fill="none" stroke="#1f9a4a" stroke-width="4.0" stroke-linejoin="round"  stroke-linecap="butt"/>
<polyline points="467.6,306.2 467.6,404.0" fill="none" stroke="#e8702a" stroke-width="5.0" stroke-linejoin="round"  stroke-dasharray="7.1 8.2" stroke-linecap="butt"/>
<polyline points="489.1,313.3 489.1,410.0" fill="none" stroke="#e8702a" stroke-width="4.9" stroke-linejoin="round"  stroke-dasharray="6.8 8.4" stroke-linecap="butt"/>
<polyline points="465.5,296.7 636.0,110.0" fill="none" stroke="#e8702a" stroke-width="5.0" stroke-linejoin="round"  stroke-dasharray="7 8.4" stroke-dashoffset="1.4" stroke-linecap="butt"/>
<polyline points="488.2,303.0 655.0,119.5" fill="none" stroke="#e8702a" stroke-width="5.0" stroke-linejoin="round"  stroke-dasharray="7 8.4" stroke-dashoffset="2.9" stroke-linecap="butt"/>
<polygon points="644.5,101.3 640.4,117.4 638.1,109.0 629.4,108.2" fill="#e8702a" stroke="none"/>
<polygon points="663.0,111.6 658.9,127.7 656.6,119.3 647.9,118.5" fill="#e8702a" stroke="none"/>
<polygon points="443.0,281.5 463.8,258.5 471.3,267.0 450.5,290.0" fill="#fff" stroke="#111" stroke-width="2.5" stroke-linejoin="round" />
<text x="130.9" y="223.5" textLength="64.8" lengthAdjust="spacingAndGlyphs" font-family="Liberation Sans, sans-serif" font-size="12.4" fill="#707173">48 blue LED</text>
<text x="130.9" y="240.9" textLength="26.6" lengthAdjust="spacingAndGlyphs" font-family="Liberation Sans, sans-serif" font-size="12.4" fill="#707173">array</text>
<polyline points="208.4,219.5 240.0,219.5" fill="none" stroke="#e8702a" stroke-width="1.3" stroke-linejoin="round" stroke-linecap="round" />
<text x="347.1" y="156.5" textLength="98.7" lengthAdjust="spacingAndGlyphs" font-family="Liberation Sans, sans-serif" font-size="12.4" fill="#707173">4 band pass filters</text>
<text x="347.1" y="174" textLength="94.5" lengthAdjust="spacingAndGlyphs" font-family="Liberation Sans, sans-serif" font-size="12.4" fill="#707173">(upgradable to 5)</text>
<polyline points="456.7,152.6 497.8,152.6" fill="none" stroke="#e8702a" stroke-width="1.3" stroke-linejoin="round" stroke-linecap="round" />
<text x="779.5" y="142.6" textLength="24.5" lengthAdjust="spacingAndGlyphs" font-family="Liberation Sans, sans-serif" font-size="12.4" fill="#707173">CCD</text>
<text x="779.3" y="160.5" textLength="39.1" lengthAdjust="spacingAndGlyphs" font-family="Liberation Sans, sans-serif" font-size="12.4" fill="#707173">camera</text>
<polyline points="735.5,138.4 774.7,138.4" fill="none" stroke="#e8702a" stroke-width="1.3" stroke-linejoin="round" stroke-linecap="round" />
<text x="771.6" y="399" textLength="48.5" lengthAdjust="spacingAndGlyphs" font-family="Liberation Sans, sans-serif" font-size="12.4" fill="#707173">48 green</text>
<text x="771.6" y="418.1" textLength="50.8" lengthAdjust="spacingAndGlyphs" font-family="Liberation Sans, sans-serif" font-size="12.4" fill="#707173">LED array</text>
<polyline points="741.0,394.4 767.0,394.4" fill="none" stroke="#e8702a" stroke-width="1.3" stroke-linejoin="round" stroke-linecap="round" /></svg></body></html>
